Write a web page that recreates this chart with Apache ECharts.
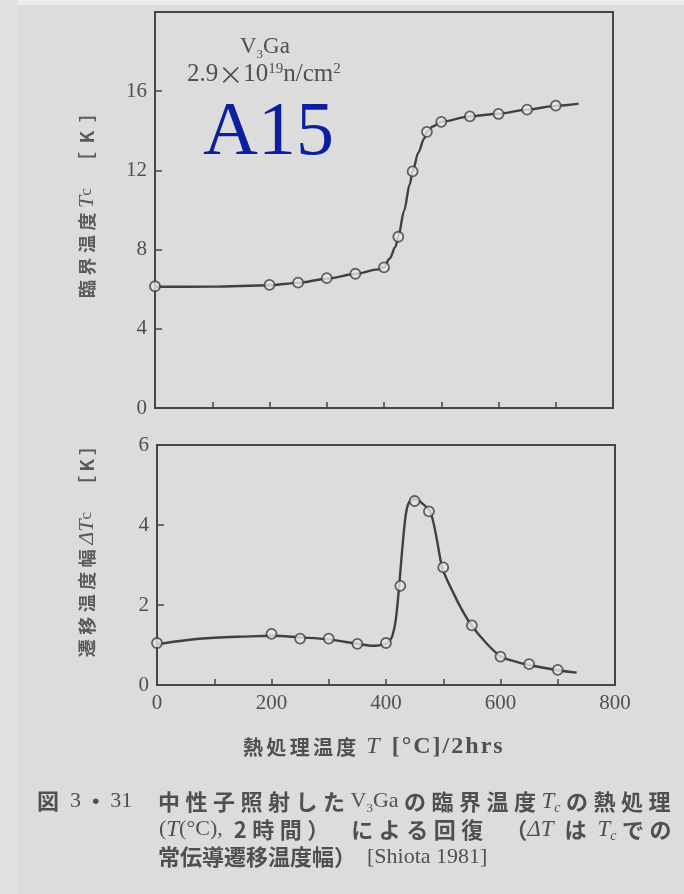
<!DOCTYPE html>
<html>
<head>
<meta charset="utf-8">
<script src="https://cdn.jsdelivr.net/npm/echarts@6/dist/echarts.min.js"></script>
<style>
  html, body { margin: 0; padding: 0; background: #dcdcdc; }
  #chart { width: 684px; height: 894px; }
</style>
</head>
<body>
<div id="chart"></div>
<script>
// measured points (annealing temperature, C)
const tempPts = [0, 200, 250, 300, 350, 400, 425, 450, 475, 500, 550, 600, 650, 700];
const tcPts = [6.15, 6.22, 6.33, 6.56, 6.78, 7.1, 8.65, 11.95, 13.95, 14.45, 14.73, 14.85, 15.07, 15.27];
const dtPts = [1.05, 1.28, 1.16, 1.16, 1.03, 1.05, 2.48, 4.6, 4.34, 2.94, 1.49, 0.71, 0.52, 0.38];

// hand drawn guide curves
const tcCurveT = [0, 100, 200, 250, 300, 350, 390, 400, 410, 420, 425, 435, 445, 450, 460, 470, 475, 485, 500, 550, 600, 650, 700, 740];
const tcCurve = [6.12, 6.13, 6.2, 6.32, 6.53, 6.77, 7.0, 7.12, 7.55, 8.15, 8.65, 9.95, 11.3, 11.95, 12.9, 13.6, 13.95, 14.22, 14.45, 14.73, 14.86, 15.07, 15.26, 15.37];
const dtCurveT = [0, 50, 100, 150, 200, 250, 300, 350, 378, 400, 405, 411, 417, 423, 426, 429, 432, 435, 439, 445, 451, 464, 477, 483, 488, 493, 498, 505, 516, 530, 548, 575, 600, 625, 650, 700, 733];
const dtCurve = [1.02, 1.12, 1.18, 1.21, 1.23, 1.19, 1.14, 1.03, 0.98, 1.03, 1.08, 1.22, 1.62, 2.48, 3.0, 3.5, 3.95, 4.3, 4.53, 4.63, 4.65, 4.53, 4.34, 4.05, 3.7, 3.3, 2.94, 2.68, 2.35, 1.95, 1.52, 1.05, 0.72, 0.59, 0.5, 0.37, 0.31];

const xTickLabels = [0, 200, 400, 600, 800];
const tcTickLabels = [0, 4, 8, 12, 16];
const dtTickLabels = [0, 2, 4, 6];

const ink = '#454545';
const txt = '#505050';
const serif = '"Liberation Serif", "DejaVu Serif", serif';
const jp = '"Noto Sans CJK JP", sans-serif';

const zip = (xs, ys) => xs.map((x, i) => [x, ys[i]]);
const spread = (s, gap) => s.split('').join(gap);
const hair = '\u200A';
const g6 = '\u2006';
const g4 = '\u2005';
const en = '\u2002';
const em = '\u2003';

function xAxis(gridIndex, showLabels) {
  return {
    type: 'value', gridIndex, min: 0, max: 800, interval: 100,
    axisLine: {show: false},
    axisTick: {show: true, inside: true, length: 6, lineStyle: {color: ink, width: 1.5}},
    splitLine: {show: false},
    axisLabel: {
      show: showLabels, margin: 8, color: txt, fontFamily: serif, fontSize: 21,
      formatter: v => xTickLabels.includes(v) ? String(v) : ''
    }
  };
}

function yAxis(gridIndex, max, interval, labels, name, gap) {
  return {
    type: 'value', gridIndex, min: 0, max, interval,
    axisLine: {show: false},
    axisTick: {show: true, inside: true, length: 7, lineStyle: {color: ink, width: 1.5}},
    splitLine: {show: false},
    axisLabel: {
      margin: 8, color: txt, fontFamily: serif, fontSize: 21,
      formatter: v => labels.includes(v) ? String(v) : ''
    },
    name, nameLocation: 'middle', nameRotate: 90, nameGap: gap,
    nameTextStyle: {
      rich: {
        p: {fontFamily: jp, fontSize: 18, color: 'transparent'},
        s: {fontFamily: jp, fontSize: 18, fontWeight: 'bold', color: '#5a5a5a'},
        i: {fontFamily: serif, fontStyle: 'italic', fontSize: 22, color: '#5a5a5a'},
        c: {fontFamily: serif, fontSize: 17, color: '#5a5a5a'}
      }
    }
  };
}

// lead: blank run before the label, nudges the centred name towards the top
function axisName(label, lead) {
  return '{p|' + lead + '}{s|' + spread(label, g4) + g4 + '}';
}

const curveStyle = {color: '#404040', width: 2.4};
const markStyle = {color: '#e6e6e6', borderColor: '#404040', borderWidth: 1.8};
const gridStyle = {show: true, borderColor: ink, borderWidth: 2, backgroundColor: 'transparent'};

// caption text styles
const capRich = {
  a: {fontFamily: jp, fontSize: 22, fontWeight: 'bold', fill: txt, lineHeight: 27},
  r: {fontFamily: serif, fontSize: 22, fill: txt, lineHeight: 27},
  i: {fontFamily: serif, fontStyle: 'italic', fontSize: 23, fill: txt, lineHeight: 27},
  b: {fontFamily: serif, fontSize: 13, fill: txt, verticalAlign: 'bottom', lineHeight: 23},
  c: {fontFamily: serif, fontStyle: 'italic', fontSize: 14, fill: txt, verticalAlign: 'bottom', lineHeight: 23}
};

const chart = echarts.init(document.getElementById('chart'));
chart.setOption({
  backgroundColor: '#dcdcdc',
  animation: false,
  grid: [
    Object.assign({left: 155, top: 12, width: 458, height: 396}, gridStyle),
    Object.assign({left: 157, top: 445, width: 458, height: 240}, gridStyle)
  ],
  xAxis: [xAxis(0, false), xAxis(1, true)],
  yAxis: [
    yAxis(0, 20, 4, tcTickLabels, axisName('臨界温度', em) + '{i|T}{c|c}{s|' + em + '［' + en + 'K' + en + '］}', 57),
    yAxis(1, 6, 2, dtTickLabels, axisName('遷移温度幅', em + em) + '{i|ΔT}{c|c}{s|' + em + '［' + g4 + 'K' + g4 + '］}', 59)
  ],
  series: [
    {type: 'line', xAxisIndex: 0, yAxisIndex: 0, data: zip(tcCurveT, tcCurve), showSymbol: false,
      smooth: 0.3, smoothMonotone: 'x', lineStyle: curveStyle, z: 2},
    {type: 'scatter', xAxisIndex: 0, yAxisIndex: 0, data: zip(tempPts, tcPts), symbolSize: 10,
      itemStyle: markStyle, z: 3},
    {type: 'line', xAxisIndex: 1, yAxisIndex: 1, data: zip(dtCurveT, dtCurve), showSymbol: false,
      smooth: 0.35, lineStyle: curveStyle, z: 2},
    {type: 'scatter', xAxisIndex: 1, yAxisIndex: 1, data: zip(tempPts, dtPts), symbolSize: 10,
      itemStyle: markStyle, z: 3}
  ],
  graphic: [
    {type: 'rect', z: -1, shape: {x: 0, y: 0, width: 684, height: 5}, style: {fill: '#ececec'}},
    {type: 'rect', z: -1, shape: {x: 0, y: 0, width: 18, height: 894}, style: {fill: '#e1e1e1'}},
    {type: 'text', left: 240, top: 35, style: {
      text: '{a|V}{b|3}{a|Ga}',
      rich: {a: {fontFamily: serif, fontSize: 23, fill: txt, verticalAlign: 'bottom'},
        b: {fontFamily: serif, fontSize: 13, fill: txt, verticalAlign: 'bottom', padding: [0, 0, -3, 0]}}
    }},
    {type: 'text', left: 187, top: 62, style: {
      text: '{a|2.9}{x|×}{a|10}{b|19}{a|n/cm}{b|2}',
      rich: {a: {fontFamily: serif, fontSize: 25, fill: txt, verticalAlign: 'top'},
        x: {fontFamily: jp, fontSize: 25, fill: txt, verticalAlign: 'top'},
        b: {fontFamily: serif, fontSize: 15, fill: txt, verticalAlign: 'top'}}
    }},
    {type: 'text', left: 203, top: 96, style: {
      text: 'A15', fill: '#0d1f9e', font: '76px ' + serif
    }},
    {type: 'text', left: 243, top: 735, style: {
      text: '{a|' + spread('熱処理温度', g6) + en + '}{i|T}{r|' + en + spread('[°C]/2hrs', hair) + '}',
      rich: {a: {fontFamily: jp, fontSize: 20, fontWeight: 'bold', fill: txt},
        i: {fontFamily: serif, fontStyle: 'italic', fontSize: 24, fill: txt},
        r: {fontFamily: serif, fontSize: 24, fontWeight: 'bold', fill: txt}}
    }},
    {type: 'text', left: 37, top: 790, style: {
      text: '{a|図}{r|' + en + '3' + g6 + '}{a|・}{r|' + g6 + '31}',
      rich: capRich
    }},
    {type: 'text', left: 158, top: 790, style: {
      text: '{a|' + spread('中性子照射した', g4) + g4 + '}{r|V}{b|3}{r|Ga}{a|' + g4 + spread('の臨界温度', g4) + g4 + '}{i|T}{c|c}{a|' + g4 + spread('の熱処理', g4) + '}',
      rich: capRich
    }},
    {type: 'text', left: 159, top: 818, style: {
      text: '{r|(}{i|T}{r|(°C),}{a|' + en + '2' + g4 + spread('時間）', g4) + em + spread('による回復', g4) + em + '（}{i|ΔT}{a|' + en + 'は' + en + '}{i|T}{c|c}{a|' + g4 + spread('での', g4) + '}',
      rich: capRich
    }},
    {type: 'text', left: 158, top: 846, style: {
      text: '{a|常伝導遷移温度幅）}{r|' + en + '[Shiota 1981]}',
      rich: capRich
    }}
  ]
});
</script>
</body>
</html>
